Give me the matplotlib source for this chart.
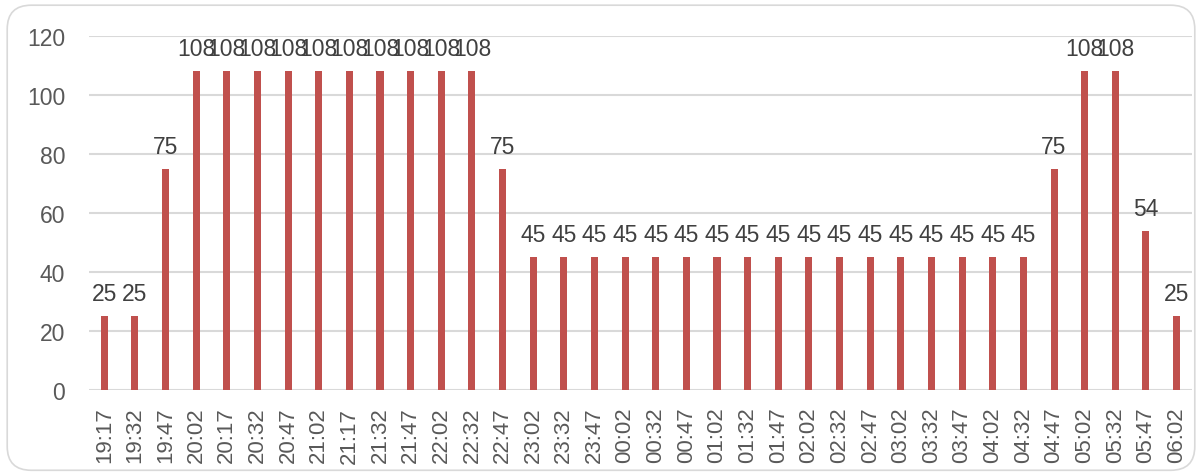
import matplotlib
matplotlib.use("Agg")
import matplotlib.pyplot as plt
from matplotlib.patches import FancyBboxPatch

categories = ["19:17", "19:32", "19:47", "20:02", "20:17", "20:32", "20:47", "21:02",
              "21:17", "21:32", "21:47", "22:02", "22:32", "22:47", "23:02", "23:32",
              "23:47", "00:02", "00:32", "00:47", "01:02", "01:32", "01:47", "02:02",
              "02:32", "02:47", "03:02", "03:32", "03:47", "04:02", "04:32", "04:47",
              "05:02", "05:32", "05:47", "06:02"]
values = [25, 25, 75, 108, 108, 108, 108, 108, 108, 108, 108, 108, 108, 75, 45, 45,
          45, 45, 45, 45, 45, 45, 45, 45, 45, 45, 45, 45, 45, 45, 45, 75,
          108, 108, 54, 25]
yticks = [0, 20, 40, 60, 80, 100, 120]

plt.rcParams['font.family'] = ['Liberation Sans', 'DejaVu Sans']
text_color = "#595959"

fig = plt.figure(figsize=(12.02, 4.77), dpi=100)
border = FancyBboxPatch((0.006, 0.012), 0.988, 0.975,
                        boxstyle="round,pad=0,rounding_size=0.02",
                        transform=fig.transFigure, facecolor="none",
                        edgecolor="#D9D9D9", linewidth=1.2, mutation_aspect=2.5,
                        zorder=-1)
fig.patches.append(border)

ax = fig.add_axes([0.0740, 0.1803, 0.9176, 0.7421])
ax.set_facecolor("none")
x = list(range(len(categories)))
bars = ax.bar(x, values, width=0.23, color="#C0504D", zorder=3)

for xi, v in zip(x, values):
    ax.annotate(str(v), (xi, v), xytext=(0, 8), textcoords="offset points",
                ha="center", va="bottom", fontsize=16.5, color="#404040", zorder=4)

ax.set_xlim(-0.5, len(categories) - 0.5)
ax.set_ylim(0, 120)
ax.set_yticks(yticks)
ax.set_xticks(x)
ax.set_xticklabels(categories, rotation=90, fontsize=16, color=text_color)
ax.tick_params(axis='y', labelsize=16.5, labelcolor=text_color, length=0, pad=17)
ax.tick_params(axis='x', length=0, pad=12)
ax.yaxis.grid(True, color="#D9D9D9", linewidth=1.5, zorder=0)
ax.set_axisbelow(True)
for s in ax.spines.values():
    s.set_visible(False)

fig.savefig("out.png", dpi=100)
